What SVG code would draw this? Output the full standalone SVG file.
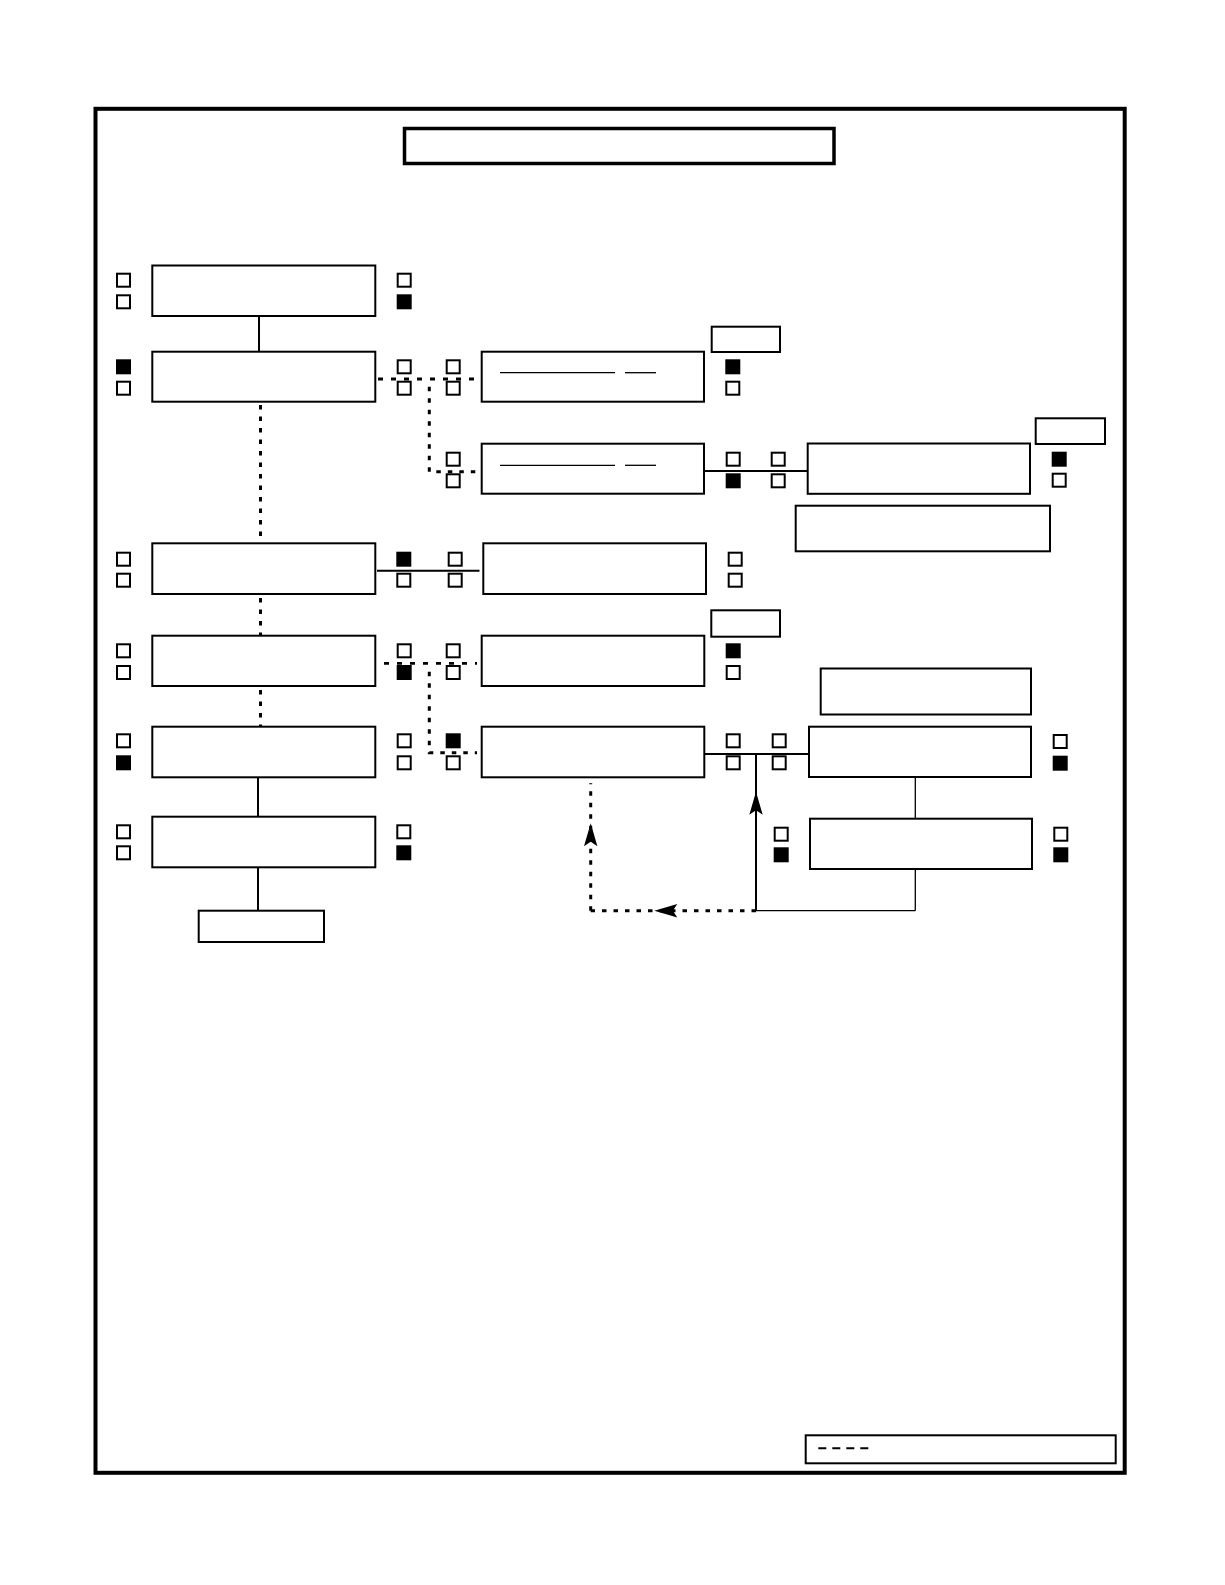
<svg xmlns="http://www.w3.org/2000/svg" xmlns:xlink="http://www.w3.org/1999/xlink" width="1225" height="1585" viewBox="0 0 1225 1585">
<style>
.frame{fill:none;stroke:#000;stroke-width:4}
.title{fill:#fff;stroke:#000;stroke-width:3.5}
.box{fill:#fff;stroke:#000;stroke-width:2}
.sq{fill:#fff;stroke:#000;stroke-width:2}
.sqf{fill:#000;stroke:#000;stroke-width:2}
.solid{fill:none;stroke:#000;stroke-width:2}
.thin{fill:none;stroke:#000;stroke-width:1.3}
.dash{fill:none;stroke:#000;stroke-width:2.8;stroke-dasharray:5 8}
.dot{fill:none;stroke:#000;stroke-width:3;stroke-dasharray:4.5 7}
.legdash{fill:none;stroke:#000;stroke-width:2;stroke-dasharray:8 6}
.inner{fill:none;stroke:#000;stroke-width:1.3}
.arrow{fill:#000;stroke:none}
</style>
<defs>
<path id="ah" d="M0 0 L6.7 23 L0 18.5 L-6.7 23 Z"/>
</defs>
<rect width="1225" height="1585" fill="#fff"/>
<rect class="frame" x="95.5" y="108.8" width="1029.2" height="1364"/>
<rect class="title" x="404.5" y="128.5" width="429.5" height="35"/>

<g id="connectors">
<line class="solid" x1="259" y1="316" x2="259" y2="351.7"/>
<line class="dot" x1="260.5" y1="405" x2="260.5" y2="543"/>
<line class="dot" x1="260.5" y1="598" x2="260.5" y2="635.5"/>
<line class="dot" x1="260.5" y1="690" x2="260.5" y2="726.5"/>
<line class="solid" x1="258" y1="777" x2="258" y2="816.7"/>
<line class="solid" x1="258" y1="867.3" x2="258" y2="910.7"/>
<line class="dash" x1="378" y1="379" x2="478" y2="379"/>
<polyline class="dot" points="429.3,386.7 429.3,471.7 478,471.7"/>
<line class="solid" x1="377" y1="570.7" x2="479.5" y2="570.7"/>
<line class="solid" x1="702" y1="471" x2="807.7" y2="471"/>
<line class="dash" x1="384" y1="663.3" x2="477" y2="663.3"/>
<polyline class="dot" points="429.3,671.7 429.3,752.7 477,752.7"/>
<line class="solid" x1="701.7" y1="754" x2="809" y2="754"/>
<line class="solid" x1="756" y1="754" x2="756" y2="910.7"/>
<line class="thin" x1="915.3" y1="777" x2="915.3" y2="818.7"/>
<line class="thin" x1="915.3" y1="869" x2="915.3" y2="910.7"/>
<line class="thin" x1="756" y1="910.7" x2="915.3" y2="910.7"/>
<line class="dot" x1="756" y1="910.7" x2="590.7" y2="910.7"/>
<line class="dot" x1="590.7" y1="910.7" x2="590.7" y2="783.3"/>
<use href="#ah" class="arrow" transform="translate(756 791.7)"/>
<use href="#ah" class="arrow" transform="translate(590.7 823.3)"/>
<use href="#ah" class="arrow" transform="translate(654.3 910.7) rotate(-90)"/>
</g>

<g id="n1">
<rect class="box" x="152.3" y="265.5" width="223" height="50.5"/>
<rect class="sq" x="117" y="273.7" width="13" height="13"/>
<rect class="sq" x="117" y="295.3" width="13" height="13"/>
<rect class="sq" x="397.7" y="273.7" width="13" height="13"/>
<rect class="sqf" x="397.7" y="295.3" width="13" height="13"/>
</g>

<g id="n2">
<rect class="box" x="152.3" y="351.7" width="223" height="50"/>
<rect class="sqf" x="117" y="360.3" width="13" height="13"/>
<rect class="sq" x="117" y="381.7" width="13" height="13"/>
<rect class="sq" x="397.7" y="360.3" width="13" height="13"/>
<rect class="sq" x="397.7" y="381.7" width="13" height="13"/>
<rect class="sq" x="446.7" y="360.3" width="13" height="13"/>
<rect class="sq" x="446.7" y="381.7" width="13" height="13"/>
</g>

<g id="n2b">
<rect class="box" x="481.7" y="351.7" width="222.3" height="50"/>
<line class="inner" x1="500" y1="372.7" x2="615" y2="372.7"/>
<line class="inner" x1="625" y1="372.7" x2="656" y2="372.7"/>
<rect class="sqf" x="726.3" y="360.3" width="13" height="13"/>
<rect class="sq" x="726.3" y="381.7" width="13" height="13"/>
</g>
<g id="t2"><rect class="box" x="711.7" y="326.7" width="68.3" height="25.3"/></g>

<g id="n3b">
<rect class="box" x="481.7" y="443.7" width="222.3" height="50"/>
<line class="inner" x1="500" y1="465.3" x2="615" y2="465.3"/>
<line class="inner" x1="625" y1="465.3" x2="656" y2="465.3"/>
<rect class="sq" x="446.7" y="452.7" width="13" height="13"/>
<rect class="sq" x="446.7" y="474.3" width="13" height="13"/>
<rect class="sq" x="726.7" y="452.7" width="13" height="13"/>
<rect class="sqf" x="726.7" y="474.3" width="13" height="13"/>
<rect class="sq" x="771.7" y="452.7" width="13" height="13"/>
<rect class="sq" x="771.7" y="474.3" width="13" height="13"/>
</g>

<g id="n3c">
<rect class="box" x="807.7" y="443.5" width="222.3" height="50.3"/>
<rect class="sqf" x="1052.7" y="452.7" width="13" height="13"/>
<rect class="sq" x="1052.7" y="473.7" width="13" height="13"/>
</g>
<g id="t3"><rect class="box" x="1035.7" y="418.3" width="69.3" height="25.7"/></g>
<g id="w3"><rect class="box" x="795.7" y="505.7" width="254.3" height="45.6"/></g>

<g id="n4">
<rect class="box" x="152.3" y="543.3" width="223" height="50.7"/>
<rect class="sq" x="117" y="552.7" width="13" height="13"/>
<rect class="sq" x="117" y="573.7" width="13" height="13"/>
<rect class="sqf" x="397.3" y="552.7" width="13" height="13"/>
<rect class="sq" x="397.3" y="573.7" width="13" height="13"/>
<rect class="sq" x="448.7" y="552.7" width="13" height="13"/>
<rect class="sq" x="448.7" y="573.7" width="13" height="13"/>
</g>

<g id="n4b">
<rect class="box" x="483.3" y="543.3" width="222.7" height="50.7"/>
<rect class="sq" x="728.7" y="552.7" width="13" height="13"/>
<rect class="sq" x="728.7" y="573.7" width="13" height="13"/>
</g>

<g id="n5">
<rect class="box" x="152.3" y="635.7" width="223" height="50.3"/>
<rect class="sq" x="117" y="644.3" width="13" height="13"/>
<rect class="sq" x="117" y="666" width="13" height="13"/>
<rect class="sq" x="397.7" y="644.3" width="13" height="13"/>
<rect class="sqf" x="397.7" y="666" width="13" height="13"/>
<rect class="sq" x="446.7" y="644.3" width="13" height="13"/>
<rect class="sq" x="446.7" y="666" width="13" height="13"/>
</g>

<g id="n5b">
<rect class="box" x="481.7" y="635.7" width="222.6" height="50.3"/>
<rect class="sqf" x="726.7" y="644.3" width="13" height="13"/>
<rect class="sq" x="726.7" y="666" width="13" height="13"/>
</g>
<g id="t5"><rect class="box" x="711.3" y="610.3" width="68.7" height="26.4"/></g>
<g id="w5"><rect class="box" x="820.7" y="668.5" width="210.3" height="46"/></g>

<g id="n6">
<rect class="box" x="152.3" y="726.7" width="223" height="50.6"/>
<rect class="sq" x="117" y="734.3" width="13" height="13"/>
<rect class="sqf" x="117" y="756.3" width="13" height="13"/>
<rect class="sq" x="397.7" y="734.3" width="13" height="13"/>
<rect class="sq" x="397.7" y="756.3" width="13" height="13"/>
<rect class="sqf" x="446.7" y="734.3" width="13" height="13"/>
<rect class="sq" x="446.7" y="756.3" width="13" height="13"/>
</g>

<g id="n6b">
<rect class="box" x="481.7" y="726.7" width="222.6" height="50.6"/>
<rect class="sq" x="726.7" y="734.3" width="13" height="13"/>
<rect class="sq" x="726.7" y="756.3" width="13" height="13"/>
<rect class="sq" x="772.7" y="734.3" width="13" height="13"/>
<rect class="sq" x="772.7" y="756.3" width="13" height="13"/>
</g>

<g id="n6c">
<rect class="box" x="809" y="726.7" width="222" height="50.3"/>
<rect class="sq" x="1053.7" y="735" width="13" height="13"/>
<rect class="sqf" x="1053.7" y="756.7" width="13" height="13"/>
</g>

<g id="n7">
<rect class="box" x="152.3" y="816.7" width="223" height="50.6"/>
<rect class="sq" x="117" y="825.3" width="13" height="13"/>
<rect class="sq" x="117" y="846.3" width="13" height="13"/>
<rect class="sq" x="397.3" y="825.3" width="13" height="13"/>
<rect class="sqf" x="397.3" y="846.3" width="13" height="13"/>
</g>

<g id="n7c">
<rect class="box" x="810" y="818.7" width="222" height="50.3"/>
<rect class="sq" x="774.7" y="827.7" width="13" height="13"/>
<rect class="sqf" x="774.7" y="848.3" width="13" height="13"/>
<rect class="sq" x="1054.3" y="827.7" width="13" height="13"/>
<rect class="sqf" x="1054.3" y="848.3" width="13" height="13"/>
</g>

<g id="end"><rect class="box" x="198.7" y="910.7" width="125.3" height="31.3"/></g>

<g id="legend">
<rect class="box" x="805.7" y="1435.3" width="310" height="28"/>
<line class="legdash" x1="818.3" y1="1448.3" x2="870" y2="1448.3"/>
</g>
</svg>
